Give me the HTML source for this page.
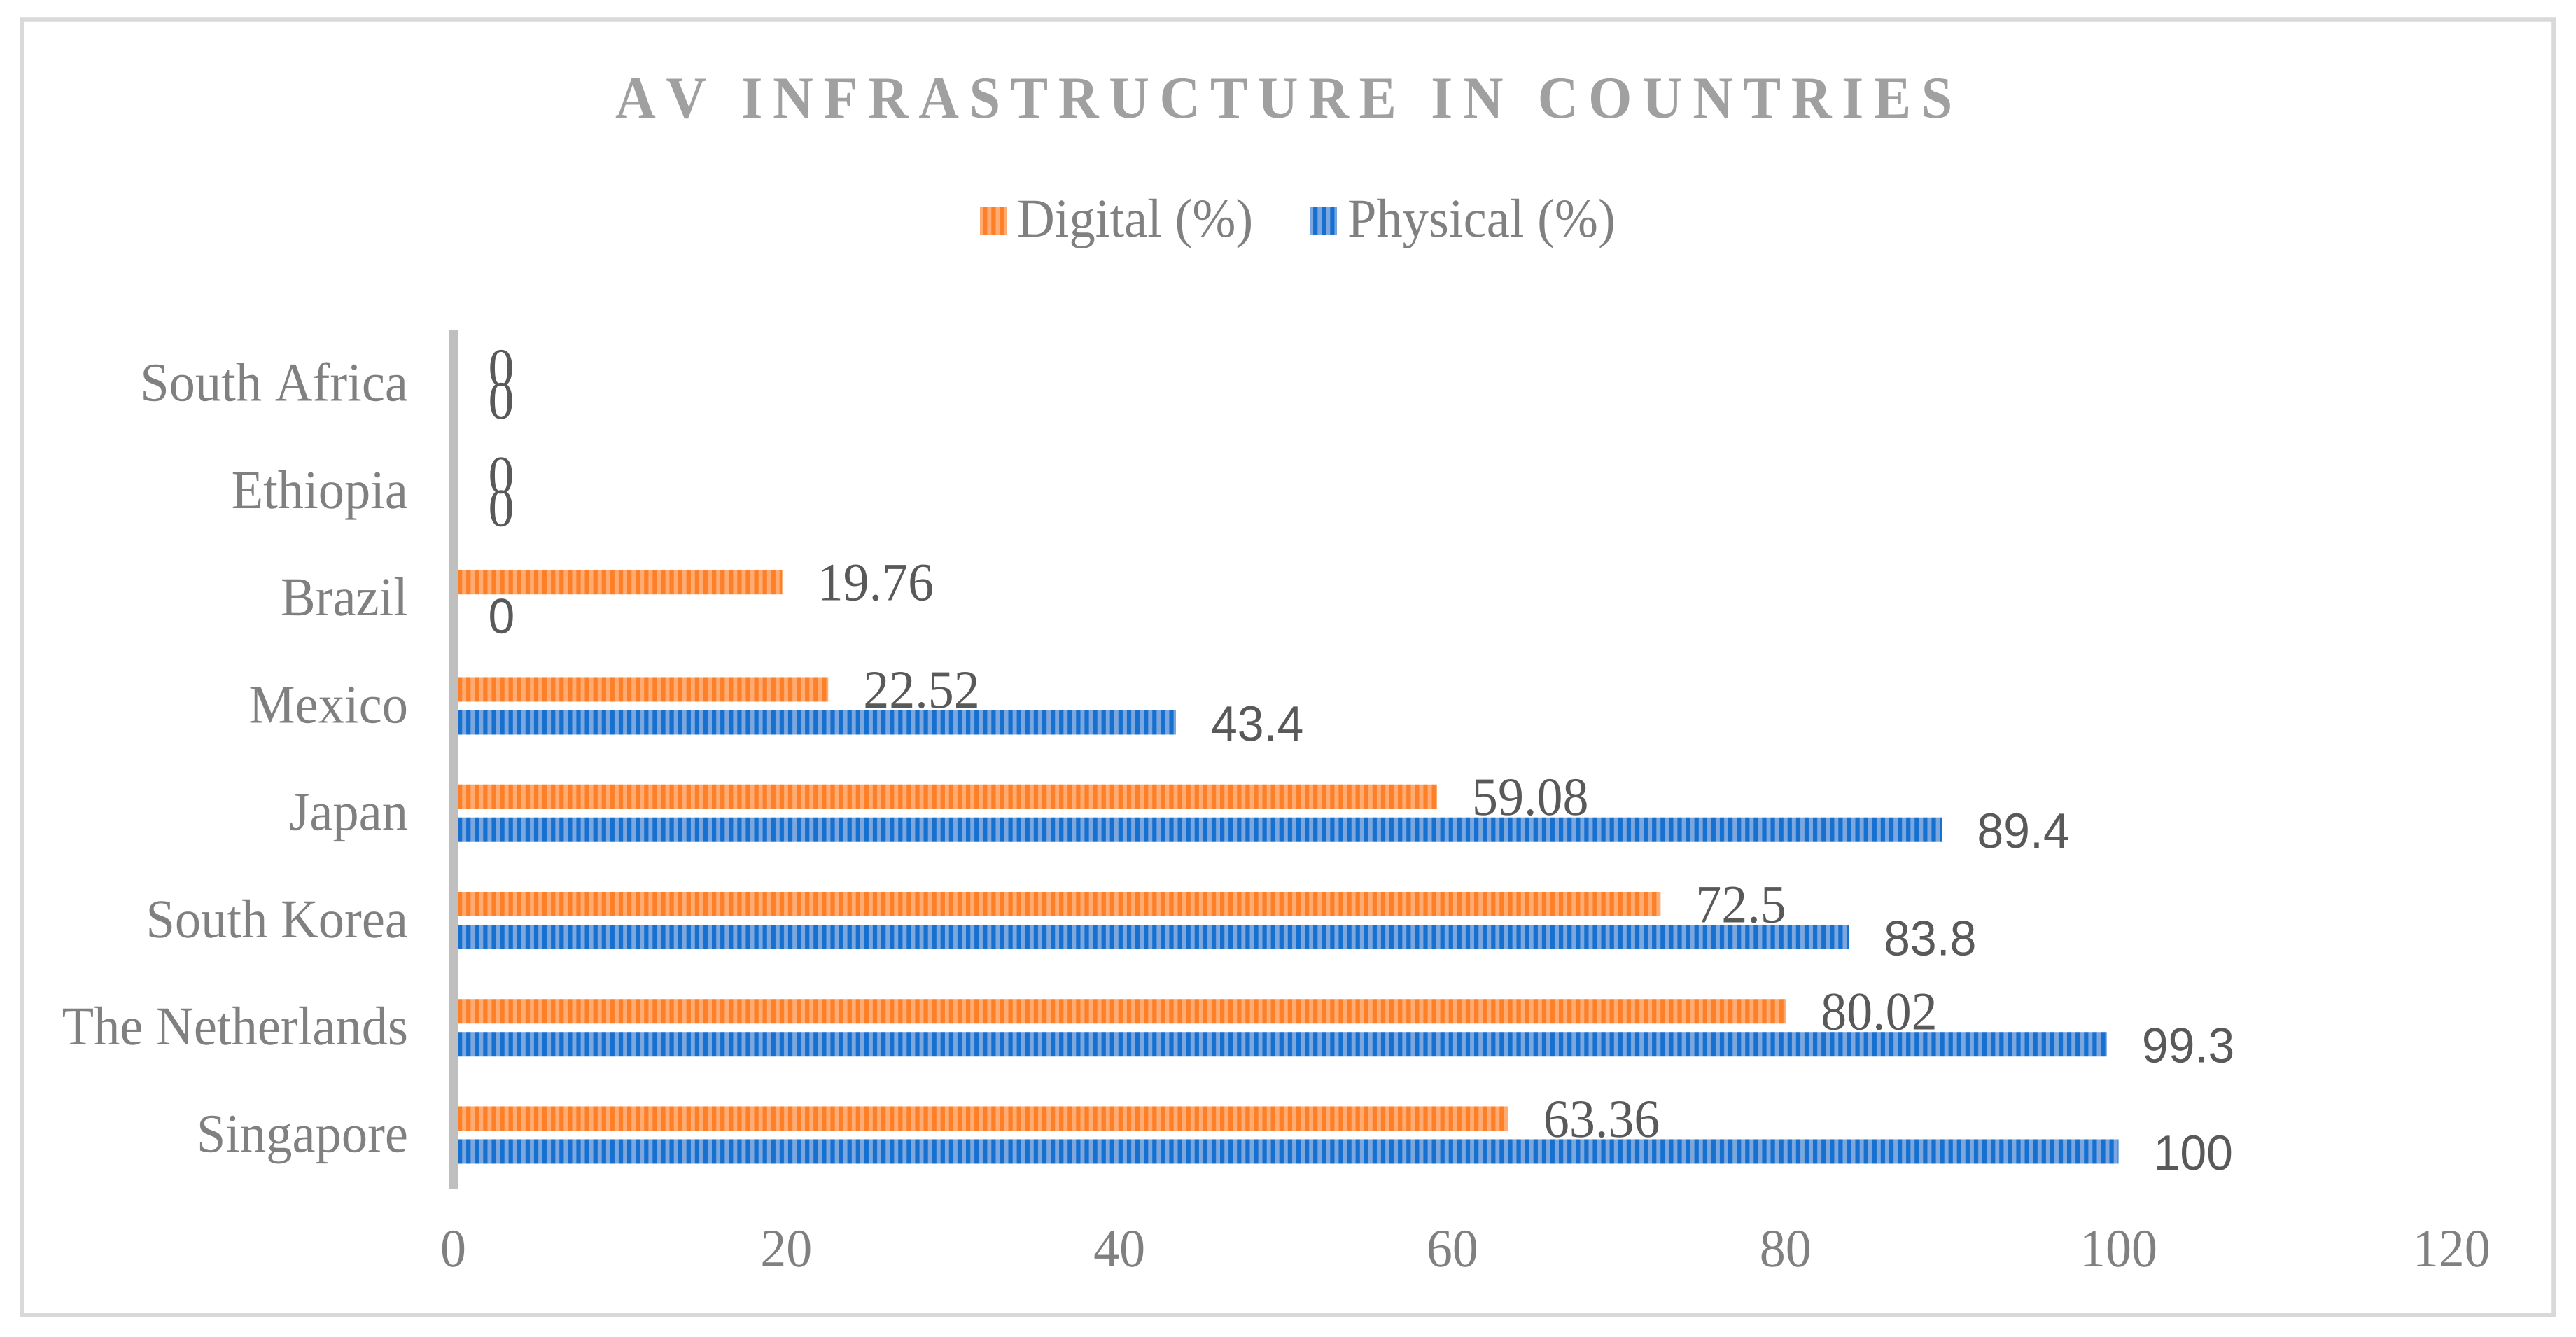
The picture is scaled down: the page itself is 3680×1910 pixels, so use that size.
<!DOCTYPE html>
<html lang="en">
<head>
<meta charset="utf-8">
<title>AV Infrastructure in Countries</title>
<style>
html,body{margin:0;padding:0;background:#fff;}
svg{display:block;}
text{font-family:"Liberation Serif",serif;font-kerning:none;text-rendering:geometricPrecision;}
</style>
</head>
<body>
<svg id="chart" xmlns="http://www.w3.org/2000/svg" width="3680" height="1910" viewBox="0 0 3680 1910">
  <defs>
    <pattern id="stripe-orange" patternUnits="userSpaceOnUse" x="654" y="0" width="12.1" height="40">
      <rect x="0" y="0" width="12.1" height="40" fill="#ffab72"/>
      <rect x="0" y="0" width="6.2" height="40" fill="#fd7f27"/>
    </pattern>
    <pattern id="stripe-blue" patternUnits="userSpaceOnUse" x="654" y="0" width="12.1" height="40">
      <rect x="0" y="0" width="12.1" height="40" fill="#7ba7de"/>
      <rect x="0" y="0" width="6.2" height="40" fill="#1670d0"/>
    </pattern>
  </defs>
  <rect x="0" y="0" width="3680" height="1910" fill="#ffffff"/>
  <rect x="31.5" y="27.5" width="3617" height="1851" fill="#ffffff" stroke="#d9d9d9" stroke-width="6.5"/>
  <text transform="translate(879,168) scale(1,1.06)" font-size="80" font-weight="bold" fill="#a0a0a0" letter-spacing="14.6">AV INFRASTRUCTURE IN COUNTRIES</text>

  <g>
    <rect x="1400" y="296" width="38" height="40" fill="url(#stripe-orange)"/>
    <text transform="translate(1453,338) scale(1,1.05)" font-size="74.5" fill="#808080">Digital (%)</text>
    <rect x="1872" y="296" width="38" height="40" fill="url(#stripe-blue)"/>
    <text transform="translate(1925,338) scale(1,1.05)" font-size="74.5" fill="#808080">Physical (%)</text>
  </g>
  <g id="plot"></g>
</svg>
<script>
const categories = ['South Africa', 'Ethiopia', 'Brazil', 'Mexico', 'Japan', 'South Korea', 'The Netherlands', 'Singapore'];
const digitalValues = [0, 0, 19.76, 22.52, 59.08, 72.5, 80.02, 63.36];
const physicalValues = [0, 0, 0, 43.4, 89.4, 83.8, 99.3, 100];
const digitalLabels = ['0', '0', '19.76', '22.52', '59.08', '72.5', '80.02', '63.36'];
const physicalLabels = ['0', '0', '0', '43.4', '89.4', '83.8', '99.3', '100'];
const xTicks = [0, 20, 40, 60, 80, 100, 120];

const NS = 'http://www.w3.org/2000/svg';
const plot = document.getElementById('plot');
const axisTop = 472;
const axisBottom = 1698;

function xScale(v) {
  return 647.5 + 23.79 * v;
}
function bandCenter(i) {
  const band = (axisBottom - axisTop) / categories.length;
  return axisTop + band * (i + 0.5);
}
function makeText(str, x, y, size, fill, anchor, sx, sy, family) {
  const t = document.createElementNS(NS, 'text');
  t.textContent = str;
  t.setAttribute('transform', 'translate(' + x + ',' + y + ') scale(' + sx + ',' + sy + ')');
  t.setAttribute('font-size', size);
  t.setAttribute('fill', fill);
  t.setAttribute('text-anchor', anchor);
  t.style.fontFamily = family;
  plot.appendChild(t);
  return t;
}
function makeBar(v, cy, fill) {
  const r = document.createElementNS(NS, 'rect');
  r.setAttribute('x', xScale(0));
  r.setAttribute('y', cy - 17.5);
  r.setAttribute('width', Math.max(0, xScale(v) - xScale(0)));
  r.setAttribute('height', 35);
  r.setAttribute('fill', fill);
  plot.appendChild(r);
  return r;
}

const SERIF = '"Liberation Serif", serif';
const SANS = '"Liberation Sans", sans-serif';

categories.forEach(function (name, i) {
  const c = bandCenter(i);

  const catLabel = makeText(name, 583, c + 24, 74.5, '#808080', 'end', 1, 1.05, SERIF);
  
  

  if (digitalValues[i] > 0) {
    const dBar = makeBar(digitalValues[i], c - 23.4, 'url(#stripe-orange)');
    
    
  }
  if (physicalValues[i] > 0) {
    const pBar = makeBar(physicalValues[i], c + 23.6, 'url(#stripe-blue)');
    
    
  }

  const dLabel = makeText(digitalLabels[i], xScale(digitalValues[i]) + 50, c + 2.5, 74, '#595959', 'start', 1, 1.04, SERIF);
  
  

  const pFamily = i < 2 ? SERIF : SANS;
  const pSize = i < 2 ? 74 : 68;
  const pLabel = makeText(physicalLabels[i], xScale(physicalValues[i]) + 50, c + 49.5, pSize, '#595959', 'start', 1, 1.04, pFamily);
  
  
});

xTicks.forEach(function (v) {
  const tick = makeText(String(v), xScale(v), 1809, 74, '#808080', 'middle', 1, 1.04, SERIF);
  
  
});

const axisLine = document.createElementNS(NS, 'rect');
axisLine.setAttribute('x', 641);
axisLine.setAttribute('y', axisTop);
axisLine.setAttribute('width', 13);
axisLine.setAttribute('height', axisBottom - axisTop);
axisLine.setAttribute('fill', '#bfbfbf');


plot.appendChild(axisLine);
</script>
</body>
</html>
